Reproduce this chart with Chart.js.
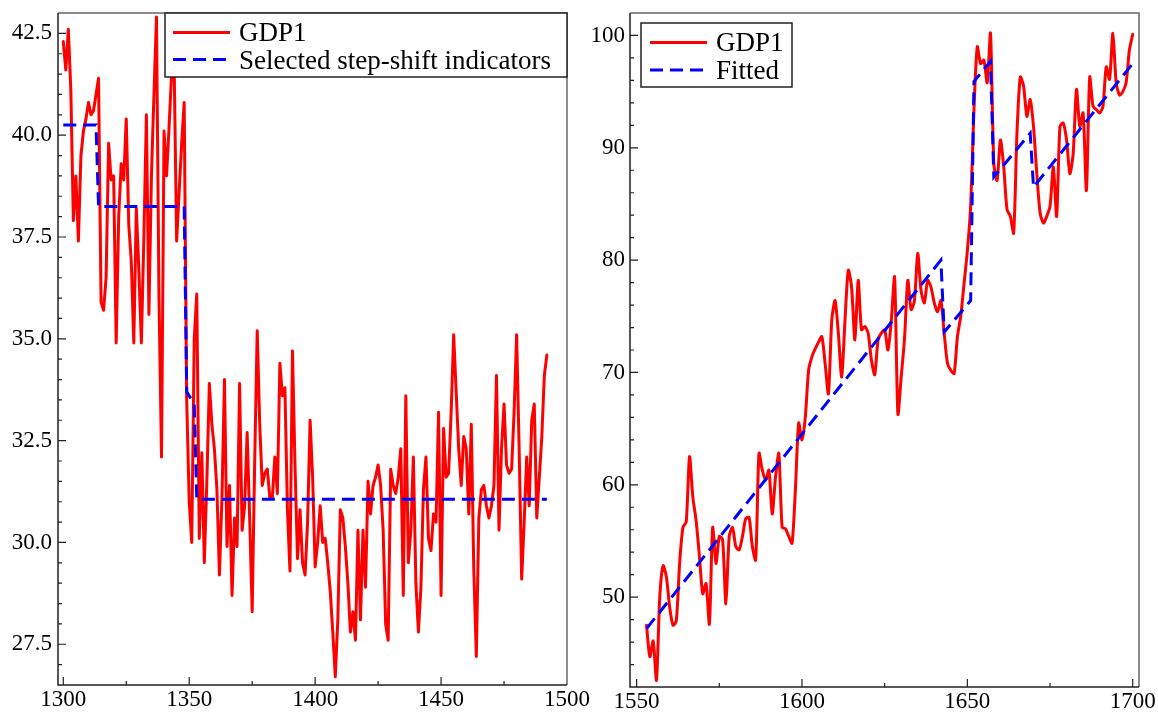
<!DOCTYPE html>
<html lang="en">
<head>
    <meta charset="UTF-8">
    <title>GDP1 step-shift and fitted trend</title>
    <style>
        body {
            margin: 0;
            background: #ffffff;
        }
        #wrap {
            position: relative;
            width: 1158px;
            height: 713px;
        }
        #wrap canvas {
            position: absolute;
            top: 0;
        }
        #leftChart { left: 0; }
        #rightChart { left: 580px; }
    </style>
</head>
<body>
    <div id="wrap">
        <canvas id="leftChart" width="600" height="713"></canvas>
        <canvas id="rightChart" width="578" height="713"></canvas>
    </div>
    <script src="https://cdn.jsdelivr.net/npm/chart.js"></script>
    <script>
        // ---- left panel: GDP1 1300-1492 and the selected step-shift indicators
        const leftStart = 1300;
        const leftGdp = [
            42.3, 41.6, 42.6, 41.1, 37.9, 39.0, 37.4, 39.5, 40.1, 40.4,
            40.8, 40.5, 40.6, 41.0, 41.4, 35.9, 35.7, 36.5, 39.8, 38.9,
            39.0, 34.9, 38.0, 39.3, 38.9, 40.4, 37.8, 36.9, 34.9, 38.2,
            36.7, 34.9, 37.5, 40.5, 35.6, 39.0, 41.0, 42.9, 36.0, 32.1,
            40.1, 39.0, 40.2, 41.5, 41.8, 37.4, 38.6, 39.8, 40.8, 33.5,
            31.0, 30.0, 35.0, 36.1, 30.1, 32.2, 29.5, 31.5, 33.9, 32.9,
            32.3, 31.3, 29.2, 31.1, 34.0, 29.9, 31.4, 28.7, 30.6, 29.9,
            33.9, 30.3, 30.9, 32.7, 30.6, 28.3, 32.0, 35.2, 32.9, 31.4,
            31.7, 31.8, 31.1, 31.1, 32.1, 31.2, 34.4, 33.6, 33.8, 30.8,
            29.3, 34.7, 31.9, 29.6, 30.8, 29.5, 29.2, 30.5, 33.0, 31.6,
            29.4, 30.0, 30.9, 30.0, 30.1, 29.5, 28.8, 27.8, 26.7, 28.1,
            30.8, 30.6, 29.9, 29.0, 27.8, 28.3, 27.6, 30.3, 28.1, 30.3,
            28.9, 31.5, 30.7, 31.4, 31.6, 31.9, 31.4, 30.3, 28.0, 27.6,
            31.8, 31.4, 31.2, 31.6, 32.3, 28.7, 33.6, 29.5, 30.3, 32.1,
            29.0, 27.8, 28.9, 31.3, 32.1, 30.1, 29.8, 30.7, 30.5, 33.2,
            28.7, 32.8, 31.6, 31.7, 33.2, 35.1, 33.7, 32.3, 31.4, 32.6,
            32.3, 30.7, 32.9, 29.3, 27.2, 30.6, 31.3, 31.4, 30.9, 30.6,
            30.9, 31.4, 34.1, 30.3, 32.3, 33.4, 31.9, 31.7, 31.8, 33.2,
            35.1, 32.3, 29.1, 30.5, 32.1, 30.9, 33.0, 33.4, 30.6, 31.6,
            32.6, 34.1, 34.6
        ];
        // corners of the step function (year, level)
        const leftStepYears = [1300, 1313, 1314, 1348, 1349, 1352, 1353, 1492];
        const leftStepValues = [40.25, 40.25, 38.25, 38.25, 33.7, 33.4, 31.06, 31.06];
        const leftXTicks = [1300, 1350, 1400, 1450, 1500];
        const leftYTicks = [27.5, 30.0, 32.5, 35.0, 37.5, 40.0, 42.5];

        // ---- right panel: GDP1 1553-1700 and the fitted broken trend
        const rightStart = 1553;
        const rightGdp = [
            47.5, 44.7, 46.1, 42.6, 50.0, 52.8, 51.8, 49.1, 47.5, 47.9,
            53.0, 56.2, 56.7, 62.5, 58.9, 56.8, 53.6, 50.3, 51.2, 47.6,
            56.2, 53.0, 55.4, 55.1, 49.4, 55.4, 56.2, 54.5, 54.2, 55.4,
            57.0, 57.1, 54.5, 53.3, 62.8, 61.3, 60.4, 61.3, 57.4, 60.7,
            62.8, 56.2, 56.1, 55.4, 54.8, 59.5, 65.5, 64.0, 66.0, 70.2,
            71.4, 72.1, 72.7, 73.2, 70.8, 68.1, 74.6, 76.4, 73.5, 69.6,
            74.6, 79.1, 77.6, 72.9, 78.2, 73.8, 74.1, 73.5, 71.1, 69.8,
            72.9, 73.5, 73.8, 72.0, 74.6, 78.5, 66.3, 69.6, 73.0, 78.2,
            75.6, 76.4, 80.6, 77.3, 76.2, 78.2, 77.6, 76.2, 75.4, 76.4,
            73.5, 70.8, 70.2, 69.9, 73.2, 75.0, 77.9, 80.8, 84.8, 93.4,
            99.0, 97.5, 97.8, 95.8, 100.2, 88.6, 87.1, 90.7, 88.3, 84.5,
            83.9, 82.4, 91.3, 96.3, 95.5, 92.8, 94.3, 91.9, 87.7, 84.2,
            83.3, 83.9, 84.8, 88.3, 83.9, 91.9, 92.2, 90.7, 87.7, 89.5,
            95.2, 91.9, 93.1, 86.2, 96.3, 93.7, 93.4, 93.1, 93.7, 97.2,
            96.1, 100.2, 95.8, 94.7, 95.0, 95.8, 98.7, 100.1
        ];
        // corners of the fitted line (year, value)
        const rightFitYears = [1553, 1642, 1643, 1651, 1652, 1657, 1658, 1669, 1670, 1700];
        const rightFitValues = [47.2, 80.0, 73.6, 76.4, 95.9, 97.7, 87.4, 91.3, 86.5, 97.5];
        const rightXTicks = [1550, 1600, 1650, 1700];
        const rightYTicks = [50, 60, 70, 80, 90, 100];

        const RED = '#ff0000';
        const BLUE = '#0000ff';
        const SERIF = "'Liberation Serif', 'Times New Roman', serif";

        function series(start, values) {
            return values.map((v, i) => ({ x: start + i, y: v }));
        }
        function pairs(xs, ys) {
            return xs.map((x, i) => ({ x: x, y: ys[i] }));
        }

        // frame, inward major/minor ticks and the boxed legend inside the plot
        const panelDecor = {
            id: 'panelDecor',
            afterDraw(chart, args, o) {
                const ctx = chart.ctx;
                const a = chart.chartArea;
                const xs = chart.scales.x, ys = chart.scales.y;
                ctx.save();
                ctx.lineWidth = 1.5;
                ctx.strokeStyle = '#666';
                ctx.beginPath();
                ctx.moveTo(a.left, a.top);
                ctx.lineTo(a.right, a.top);
                ctx.lineTo(a.right, a.bottom);
                ctx.stroke();
                ctx.strokeStyle = '#222';
                ctx.beginPath();
                ctx.moveTo(a.left, a.top);
                ctx.lineTo(a.left, a.bottom);
                ctx.lineTo(a.right, a.bottom);
                ctx.stroke();

                ctx.lineWidth = 1.2;
                ctx.beginPath();
                let n0 = Math.ceil(xs.min / o.xMinor), n1 = Math.floor(xs.max / o.xMinor);
                for (let n = n0; n <= n1; n++) {
                    const v = n * o.xMinor;
                    const px = xs.getPixelForValue(v);
                    if (px < a.left + 1 || px > a.right - 1) continue;
                    const len = (v % o.xMajor === 0) ? 8 : 4;
                    ctx.moveTo(px, a.bottom);
                    ctx.lineTo(px, a.bottom - len);
                }
                n0 = Math.ceil(ys.min / o.yMinor - 1e-9);
                n1 = Math.floor(ys.max / o.yMinor + 1e-9);
                for (let n = n0; n <= n1; n++) {
                    const v = n * o.yMinor;
                    const py = ys.getPixelForValue(v);
                    if (py < a.top + 1 || py > a.bottom - 1) continue;
                    const r = v / o.yMajor;
                    const len = Math.abs(r - Math.round(r)) < 1e-6 ? 8 : 4;
                    ctx.moveTo(a.left, py);
                    ctx.lineTo(a.left + len, py);
                }
                ctx.stroke();

                // legend
                const L = o.legend;
                ctx.fillStyle = '#fff';
                ctx.fillRect(L.left, L.top, L.width, L.height);
                ctx.lineWidth = 1.5;
                ctx.strokeStyle = '#222';
                ctx.strokeRect(L.left, L.top, L.width, L.height);
                ctx.font = L.fontSize + 'px ' + SERIF;
                ctx.textBaseline = 'alphabetic';
                ctx.textAlign = 'left';
                L.items.forEach((it, i) => {
                    const ly = L.rows[i];
                    ctx.strokeStyle = it.color;
                    ctx.lineWidth = it.width;
                    ctx.setLineDash(it.dash);
                    ctx.beginPath();
                    ctx.moveTo(L.sampleFrom, ly);
                    ctx.lineTo(L.sampleTo, ly);
                    ctx.stroke();
                    ctx.setLineDash([]);
                    ctx.fillStyle = '#000';
                    ctx.fillText(it.label, L.textX, L.baselines[i]);
                });
                ctx.restore();
            }
        };

        function makePanel(id, cfg) {
            return new Chart(document.getElementById(id), {
                type: 'line',
                data: {
                    datasets: [
                        {
                            label: cfg.fitLabel,
                            data: cfg.fit,
                            borderColor: BLUE,
                            borderWidth: 3,
                            borderDash: [13, 7],
                            pointRadius: 0,
                            tension: 0,
                            fill: false,
                            order: 0
                        },
                        {
                            label: 'GDP1',
                            data: cfg.gdp,
                            borderColor: RED,
                            borderWidth: 3,
                            borderJoinStyle: 'round',
                            borderCapStyle: 'round',
                            pointRadius: 0,
                            tension: cfg.tension,
                            fill: false,
                            order: 1
                        }
                    ]
                },
                options: {
                    responsive: false,
                    animation: false,
                    events: [],
                    layout: { padding: cfg.padding },
                    plugins: {
                        legend: { display: false },
                        tooltip: { enabled: false },
                        panelDecor: cfg.decor
                    },
                    scales: {
                        x: {
                            type: 'linear',
                            min: cfg.xMin,
                            max: cfg.xMax,
                            grid: { display: false, drawTicks: false },
                            border: { display: false },
                            ticks: {
                                font: { family: SERIF, size: 23 },
                                color: '#000',
                                padding: 1,
                                maxRotation: 0,
                                autoSkip: false,
                                callback: v => String(v)
                            },
                            afterBuildTicks: s => { s.ticks = cfg.xTicks.map(v => ({ value: v })); },
                            afterFit: s => { s.height = cfg.xHeight; s.paddingLeft = 0; s.paddingRight = 0; }
                        },
                        y: {
                            min: cfg.yMin,
                            max: cfg.yMax,
                            grid: { display: false, drawTicks: false },
                            border: { display: false },
                            ticks: {
                                font: { family: SERIF, size: 23 },
                                color: '#000',
                                padding: cfg.yPad,
                                autoSkip: false,
                                callback: cfg.yFormat
                            },
                            afterBuildTicks: s => { s.ticks = cfg.yTicks.map(v => ({ value: v })); },
                            afterFit: s => { s.width = cfg.yWidth; s.paddingTop = 0; s.paddingBottom = 0; }
                        }
                    }
                },
                plugins: [panelDecor]
            });
        }

        makePanel('leftChart', {
            gdp: series(leftStart, leftGdp),
            fit: pairs(leftStepYears, leftStepValues),
            fitLabel: 'Selected step-shift indicators',
            tension: 0,
            xMin: 1297.9, xMax: 1500,
            yMin: 26.5, yMax: 43.0,
            xTicks: leftXTicks, yTicks: leftYTicks,
            yFormat: v => v.toFixed(1),
            padding: { top: 13, right: 33, bottom: 0, left: 0 },
            xHeight: 28, yWidth: 58, yPad: 6,
            decor: {
                xMinor: 25, xMajor: 50, yMinor: 0.5, yMajor: 2.5,
                legend: {
                    left: 165, top: 13, width: 402, height: 64,
                    sampleFrom: 173, sampleTo: 230, textX: 239, fontSize: 27,
                    rows: [32.5, 59.5], baselines: [41, 68.5],
                    items: [
                        { label: 'GDP1', color: RED, width: 3, dash: [] },
                        { label: 'Selected step-shift indicators', color: BLUE, width: 3, dash: [13, 7] }
                    ]
                }
            }
        });

        makePanel('rightChart', {
            gdp: series(rightStart, rightGdp),
            fit: pairs(rightFitYears, rightFitValues),
            fitLabel: 'Fitted',
            tension: 0.25,
            xMin: 1548, xMax: 1701.9,
            yMin: 42, yMax: 102,
            xTicks: rightXTicks, yTicks: rightYTicks,
            yFormat: v => String(v),
            padding: { top: 13, right: 19, bottom: 0, left: 0 },
            xHeight: 26, yWidth: 50, yPad: 5,
            decor: {
                xMinor: 25, xMajor: 50, yMinor: 2, yMajor: 10,
                legend: {
                    left: 61, top: 23, width: 151, height: 64,
                    sampleFrom: 70, sampleTo: 127, textX: 136, fontSize: 27,
                    rows: [42.5, 70], baselines: [50.5, 78.5],
                    items: [
                        { label: 'GDP1', color: RED, width: 3, dash: [] },
                        { label: 'Fitted', color: BLUE, width: 3, dash: [13, 7] }
                    ]
                }
            }
        });
    </script>
</body>
</html>
